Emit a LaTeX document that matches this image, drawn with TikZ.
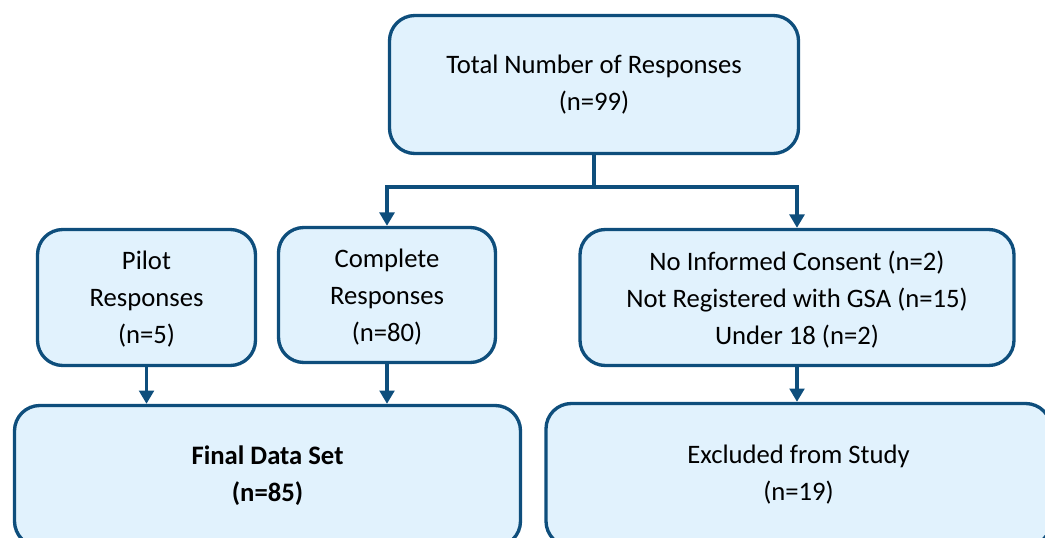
\documentclass[tikz,border=0pt]{standalone}
\usepackage{fontspec}
\setmainfont{Carlito}
\usetikzlibrary{arrows.meta, calc}
\definecolor{boxfill}{RGB}{225, 242, 253}
\definecolor{boxline}{RGB}{14, 78, 124}

\begin{document}
\begin{tikzpicture}[x=0.75pt, y=-0.75pt]
% Define styles
\tikzset{
  flowbox/.style={draw=boxline, fill=boxfill, line width=2.5pt,
    rounded corners=19pt, align=center, inner sep=0pt,
    font=\fontsize{20}{27.75}\selectfont},
  lowtext/.style={text depth=0pt, execute at begin node={\rule{0pt}{24pt}}},
  flowarrow/.style={draw=boxline, line width=2.5pt,
    -{Triangle[length=10pt, width=11pt]}},
  flowline/.style={draw=boxline, line width=2.5pt}
}

% Parameters
\def\pxu{0.75pt} % one pixel of the reference

% Page and clipping
\useasboundingbox (0,0) rectangle (1045,538);
\clip (0,0) rectangle (1045,538);

% Top box
\node[flowbox, minimum width=409*\pxu, minimum height=138*\pxu]
  (total) at (594,84.5) {Total Number of Responses\\(n=99)};

% Middle row
\node[flowbox, lowtext, minimum width=218*\pxu, minimum height=136*\pxu]
  (pilot) at (146.5,297.5) {Pilot\\Responses\\(n=5)};
\node[flowbox, lowtext, minimum width=217*\pxu, minimum height=135*\pxu]
  (complete) at (387,295) {Complete\\Responses\\(n=80)};
\node[flowbox, lowtext, minimum width=434*\pxu, minimum height=136*\pxu]
  (reasons) at (797,297.5)
  {No Informed Consent (n=2)\\Not Registered with GSA (n=15)\\Under 18 (n=2)};

% Bottom row (runs off the page)
\node[flowbox, minimum width=506*\pxu, minimum height=141*\pxu]
  (final) at (267.5,476) {\textbf{Final Data Set}\\\textbf{(n=85)}};
\node[flowbox, minimum width=505*\pxu, minimum height=143*\pxu]
  (excluded) at (798.5,475) {Excluded from Study\\(n=19)};

% Connectors
\coordinate (split) at (594,187);
\draw[flowline] (total) -- (split);
\draw[flowarrow] (split) -| (complete.north);
\draw[flowarrow] (split) -| (reasons.north);
\draw[flowarrow] (pilot.south) -- (pilot.south |- final.north);
\draw[flowarrow] (complete.south) -- (complete.south |- final.north);
\draw[flowarrow] (reasons.south) -- (reasons.south |- excluded.north);
\end{tikzpicture}
\end{document}
